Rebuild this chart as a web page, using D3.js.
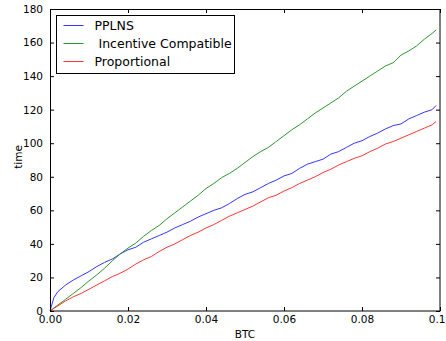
<!DOCTYPE html>
<html>
<head>
<meta charset="utf-8" />
<script src="https://d3js.org/d3.v7.min.js"></script>
<style>
body { margin: 0; background: #fff; }
svg text { font-family: "DejaVu Sans", sans-serif; }
</style>
</head>
<body>
<div id="chart"></div>
<script>
// BTC values (x), one sample every 0.002 plus a few extra near the ends
var btc = [0, 0.001, 0.002, 0.004, 0.006, 0.008, 0.010, 0.012, 0.014, 0.016, 0.018,
    0.020, 0.022, 0.024, 0.026, 0.028, 0.030, 0.032, 0.034, 0.036, 0.038,
    0.040, 0.042, 0.044, 0.046, 0.048, 0.050, 0.052, 0.054, 0.056, 0.058,
    0.060, 0.062, 0.064, 0.066, 0.068, 0.070, 0.072, 0.074, 0.076, 0.078,
    0.080, 0.082, 0.084, 0.086, 0.088, 0.090, 0.092, 0.094, 0.096, 0.098, 0.099];

var pplns = [0, 8, 11.5, 15.5, 18.5, 21, 23.5, 26.5, 29, 31, 34,
    36.5, 38, 41, 43, 45, 47, 49.5, 51.5, 53.5, 56,
    58, 60, 61.5, 64, 67, 69.5, 71, 73.5, 76, 78,
    80.5, 82, 85, 87.5, 89, 90.5, 93.5, 95, 97.5, 100,
    101.5, 104, 106, 108.5, 110.5, 111.5, 114.5, 116.5, 118.5, 120, 122.5];

var incentive = [0, 1.8, 3.5, 7, 10.5, 14, 18, 21.5, 25.5, 30, 34,
    37.5, 40.5, 44.5, 48, 51, 55, 58.5, 62, 65.5, 69,
    73, 76, 79.5, 82, 85, 88.5, 92, 95, 97.5, 101,
    104.5, 108, 111, 114.5, 118, 121, 124, 127, 131, 134,
    137, 140, 143, 146, 148, 152.5, 155, 158, 162, 165.5, 167.5];

var proportional = [0, 1.6, 3, 6, 8.5, 10.5, 13, 15.5, 18, 20.5, 22.5,
    25, 28, 30.5, 32.5, 35.5, 38, 40, 42.5, 45, 47,
    49.5, 51.5, 54, 56.5, 58.5, 60.5, 62.5, 65, 67.5, 69,
    71.5, 73.5, 76, 78, 80, 82.5, 84.5, 87, 89, 91,
    92.5, 95, 97, 99.5, 101, 103, 105, 107, 109, 111, 113];

var seriesNames = ["PPLNS", " Incentive Compatible", "Proportional"];
var seriesColors = ["#3535ff", "#2f962f", "#ff3535"];
var xTicks = [0, 0.02, 0.04, 0.06, 0.08, 0.10];
var yTicks = [0, 20, 40, 60, 80, 100, 120, 140, 160, 180];

var W = 446, H = 341;
var margin = {top: 9, left: 50},
    width = 440 - margin.left,
    height = 311 - margin.top;

var svg = d3.select("#chart").append("svg")
    .attr("width", W)
    .attr("height", H);

var g = svg.append("g")
    .attr("transform", "translate(" + margin.left + "," + margin.top + ")");

var x = d3.scaleLinear().domain([0, 0.1]).range([0, width]);
var y = d3.scaleLinear().domain([0, 180]).range([height, 0]);

// lines
var series = [pplns, incentive, proportional];
var line = d3.line()
    .x(function(d, i) { return x(btc[i]); })
    .y(function(d) { return y(d); });

series.forEach(function(s, i) {
    g.append("path")
        .datum(s)
        .attr("d", line)
        .attr("fill", "none")
        .attr("stroke", seriesColors[i])
        .attr("stroke-width", 1);
});

// axes, matplotlib style: ticks inside, on all four sides
function styleAxis(sel) {
    sel.select(".domain").remove();
    sel.selectAll(".tick line").attr("stroke", "#000");
    sel.selectAll("text").attr("font-size", "10.5px").attr("fill", "#000");
}

g.append("g")
    .attr("transform", "translate(0," + height + ")")
    .call(d3.axisBottom(x).tickValues(xTicks).tickSizeInner(-4).tickSizeOuter(0)
        .tickPadding(5).tickFormat(d3.format(".2f")))
    .call(styleAxis);

g.append("g")
    .call(d3.axisTop(x).tickValues(xTicks).tickSizeInner(-4).tickSizeOuter(0).tickFormat(""))
    .call(styleAxis);

g.append("g")
    .call(d3.axisLeft(y).tickValues(yTicks).tickSizeInner(-4).tickSizeOuter(0).tickPadding(7))
    .call(styleAxis);

g.append("g")
    .attr("transform", "translate(" + width + ",0)")
    .call(d3.axisRight(y).tickValues(yTicks).tickSizeInner(-4).tickSizeOuter(0).tickFormat(""))
    .call(styleAxis);

g.append("rect")
    .attr("x", 0.5).attr("y", 0.5)
    .attr("width", width - 0.5).attr("height", height - 0.5)
    .attr("fill", "none")
    .attr("stroke", "#000")
    .attr("stroke-width", 1);

// axis labels
svg.append("text")
    .attr("x", margin.left + width / 2)
    .attr("y", 337.5)
    .attr("text-anchor", "middle")
    .attr("font-size", "10.5px")
    .text("BTC");

svg.append("text")
    .attr("transform", "translate(21.5,157) rotate(-90)")
    .attr("text-anchor", "middle")
    .attr("font-size", "10.5px")
    .text("time");

// legend
var legend = svg.append("g").attr("transform", "translate(56.5,15.5)");
legend.append("rect")
    .attr("width", 178).attr("height", 58)
    .attr("fill", "#fff")
    .attr("stroke", "#000");

seriesNames.forEach(function(name, i) {
    var ly = 10 + i * 18;
    legend.append("line")
        .attr("x1", 7).attr("x2", 27)
        .attr("y1", ly).attr("y2", ly)
        .attr("stroke", seriesColors[i]);
    legend.append("text")
        .attr("x", 38).attr("y", ly + 4.5)
        .attr("font-size", "12.5px")
        .attr("xml:space", "preserve")
        .style("white-space", "pre")
        .text(name);
});
</script>
</body>
</html>
